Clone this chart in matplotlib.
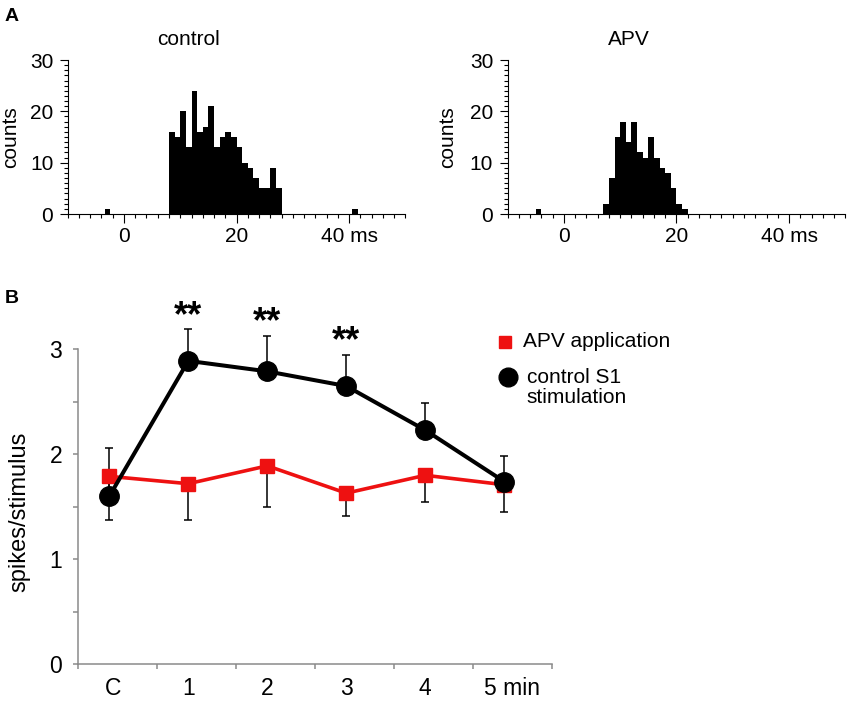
import numpy as np
import matplotlib
matplotlib.use("Agg")
import matplotlib.pyplot as plt
from matplotlib.ticker import MultipleLocator, FixedLocator

plt.rcParams["font.family"] = ["Liberation Sans", "DejaVu Sans"]

# A: peristimulus histograms (1 ms bins, counts)
ctrl_start = 8
ctrl_counts = [16, 15, 20, 13, 24, 16, 17, 21, 13, 15, 16, 15, 13, 10, 9, 7, 5, 5, 9, 5]
ctrl_stray_t = [-3.4, 40.5]
ctrl_stray_n = [1, 1]

apv_start = 7
apv_counts = [2, 7, 15, 18, 14, 18, 12, 11, 15, 11, 9, 8, 5, 2, 1]
apv_stray_t = [-5]
apv_stray_n = [1]

# B: spikes/stimulus over time
time_labels = ["C", "1", "2", "3", "4", "5 min"]
apv_mean = [1.79, 1.72, 1.89, 1.63, 1.80, 1.71]
apv_err = [0.42, 0.35, 0.39, 0.22, 0.25, 0.26]
ctrl_mean = [1.60, 2.89, 2.79, 2.65, 2.23, 1.74]
ctrl_err = [0.46, 0.30, 0.34, 0.30, 0.26, 0.24]
signif = ["", "**", "**", "**", "", ""]

RED = "#ee1111"
GREY = "#8a8a8a"


def histogram(ax, start, counts, stray_t, stray_n, title, label_x):
    t = start + np.arange(len(counts))
    ax.bar(t, counts, width=1, align="edge", color="black", linewidth=0)
    ax.bar(stray_t, stray_n, width=1, align="edge", color="black", linewidth=0)
    ax.set_xlim(-10, 50)
    ax.set_ylim(0, 30)
    for s in ("top", "right"):
        ax.spines[s].set_visible(False)
    for s in ("left", "bottom"):
        ax.spines[s].set_linewidth(0.8)
    ax.xaxis.set_major_locator(FixedLocator([0, 20, 40]))
    ax.set_xticklabels(["0", "20", "40 ms"])
    ax.xaxis.set_minor_locator(MultipleLocator(2))
    ax.yaxis.set_major_locator(MultipleLocator(10))
    ax.yaxis.set_minor_locator(MultipleLocator(1))
    ax.tick_params(which="major", length=6.3, width=0.8, labelsize=15, pad=3)
    ax.tick_params(which="minor", length=2.8, width=0.8)
    ax.tick_params(axis="y", which="major", length=5.5, pad=4.8)
    ax.set_ylabel("counts", fontsize=15)
    ax.yaxis.set_label_coords(label_x, 0.5)
    ax.text(11.5, 34.0, title, ha="center", va="center", fontsize=15, clip_on=False)


fig = plt.figure(figsize=(8.5, 7.01), dpi=100)

ax1 = fig.add_axes([0.0796, 0.6947, 0.3974, 0.2197])
histogram(ax1, ctrl_start, ctrl_counts, ctrl_stray_t, ctrl_stray_n, "control", -0.14)
ax2 = fig.add_axes([0.5971, 0.6947, 0.3974, 0.2197])
histogram(ax2, apv_start, apv_counts, apv_stray_t, apv_stray_n, "APV", -0.15)

axb = fig.add_axes([0.0914, 0.0524, 0.5576, 0.5092])
x = np.arange(len(time_labels))
zeros = np.zeros(len(x))
axb.errorbar(x, apv_mean, yerr=[apv_err, zeros], fmt="none", ecolor="black",
             elinewidth=1.1, capsize=2.8, capthick=1.1, zorder=2, clip_on=False)
axb.errorbar(x, ctrl_mean, yerr=[zeros, ctrl_err], fmt="none", ecolor="black",
             elinewidth=1.1, capsize=2.8, capthick=1.1, zorder=2, clip_on=False)
axb.plot(x, apv_mean, color=RED, lw=2.6, marker="s", ms=10, zorder=3)
axb.plot(x, ctrl_mean, color="black", lw=2.9, marker="o", ms=14, zorder=4)

for i, s in enumerate(signif):
    if s:
        axb.text(x[i], ctrl_mean[i] + ctrl_err[i] + 0.125, s, ha="center", va="center",
                 fontsize=26, fontweight="bold")

axb.set_xlim(-0.4, 5.6)
axb.set_ylim(0, 3.4)
for s in ("top", "right"):
    axb.spines[s].set_visible(False)
for s in ("left", "bottom"):
    axb.spines[s].set_color(GREY)
    axb.spines[s].set_linewidth(1.1)
axb.spines["left"].set_bounds(0, 3)
axb.yaxis.set_major_locator(FixedLocator([0, 1, 2, 3]))
axb.yaxis.set_minor_locator(FixedLocator([0.5, 1.5, 2.5]))
axb.xaxis.set_major_locator(FixedLocator(np.arange(len(x) + 1) - 0.4))
axb.xaxis.set_major_formatter(plt.NullFormatter())
axb.set_xticks([0.05, 1, 2, 3, 4, 5.1], labels=time_labels, minor=True)
axb.tick_params(axis="y", which="both", length=3.6, width=1.1, color=GREY, labelsize=16.5, pad=7.5)
axb.tick_params(axis="x", which="major", length=3.6, width=1.1, color=GREY)
axb.tick_params(axis="x", which="minor", length=0, labelsize=16.5, pad=9)
axb.set_ylabel("spikes/stimulus", fontsize=17)
axb.yaxis.set_label_coords(-0.100, 0.427)

# legend
axb.plot([0.901], [0.904], "s", color=RED, ms=9, transform=axb.transAxes, clip_on=False)
axb.text(0.940, 0.904, "APV application", transform=axb.transAxes, va="center", fontsize=15)
axb.plot([0.908], [0.806], "o", color="black", ms=13.5, transform=axb.transAxes, clip_on=False)
axb.text(0.947, 0.7745, "control S1\nstimulation", transform=axb.transAxes, va="center",
         fontsize=15, linespacing=1.05)

fig.text(0.005, 0.989, "A", fontsize=14, fontweight="bold", va="top")
fig.text(0.005, 0.586, "B", fontsize=14, fontweight="bold", va="top")

fig.savefig("out.png", dpi=100)
